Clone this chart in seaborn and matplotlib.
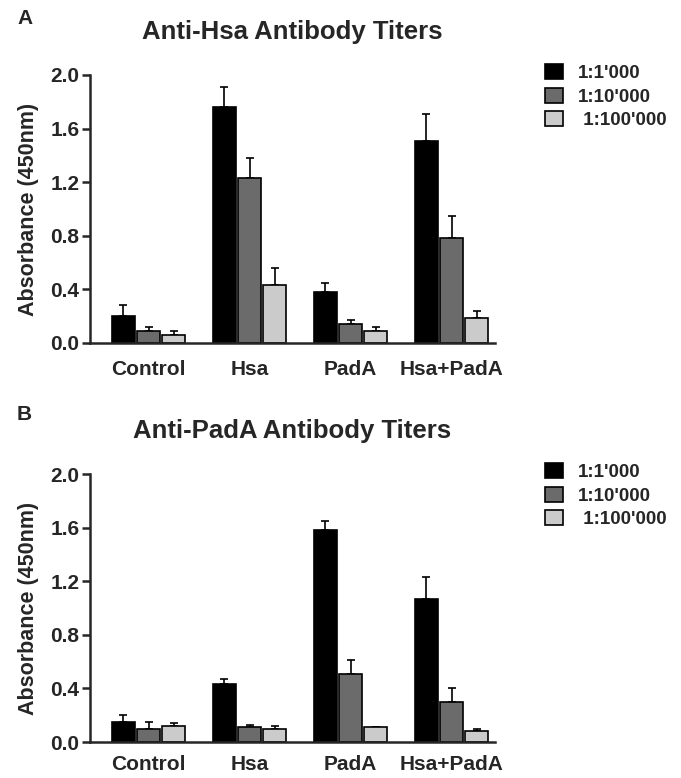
import numpy as np
import pandas as pd
import matplotlib
matplotlib.use('Agg')
import matplotlib.pyplot as plt
import seaborn as sns

# Data
groups = ['Control', 'Hsa', 'PadA', 'Hsa+PadA']
dilutions = ["1:1'000", "1:10'000", " 1:100'000"]

# Panel A: anti-Hsa titers (mean, upper error end)
hsa_1k = [0.20, 1.76, 0.38, 1.51]
hsa_1k_err = [0.28, 1.91, 0.45, 1.71]
hsa_10k = [0.09, 1.23, 0.14, 0.78]
hsa_10k_err = [0.12, 1.38, 0.17, 0.95]
hsa_100k = [0.06, 0.43, 0.09, 0.19]
hsa_100k_err = [0.09, 0.56, 0.12, 0.24]

# Panel B: anti-PadA titers
pada_1k = [0.15, 0.435, 1.58, 1.07]
pada_1k_err = [0.20, 0.47, 1.65, 1.23]
pada_10k = [0.10, 0.11, 0.51, 0.30]
pada_10k_err = [0.15, 0.13, 0.61, 0.40]
pada_100k = [0.12, 0.10, 0.11, 0.08]
pada_100k_err = [0.145, 0.12, 0.115, 0.10]

palette = ['#000000', '#6b6b6b', '#cbcbcb']

sns.set_style('ticks')
plt.rcParams['font.family'] = ['Liberation Sans', 'DejaVu Sans']
plt.rcParams['font.weight'] = 'bold'
plt.rcParams['axes.labelweight'] = 'bold'
plt.rcParams['axes.titleweight'] = 'bold'


def make_df(series):
    rows = []
    for dil, vals in zip(dilutions, series):
        for g, v in zip(groups, vals):
            rows.append({'group': g, 'dilution': dil, 'absorbance': v})
    return pd.DataFrame(rows)


def draw_panel(fig, rect, title, letter, letter_y, series, tops, xpad):
    ax = fig.add_axes(rect)
    df = make_df(series)
    sns.barplot(data=df, x='group', y='absorbance', hue='dilution',
                order=groups, hue_order=dilutions, palette=palette,
                width=0.75, gap=0.1, edgecolor='black', linewidth=1.2,
                errorbar=None, ax=ax)

    # upper-only error bars
    for cont, vals, top in zip(ax.containers, series, tops):
        xs = [b.get_x() + b.get_width() / 2 for b in cont]
        vals = np.array(vals)
        up = np.array(top) - vals
        ax.errorbar(xs, vals, yerr=[np.zeros_like(up), up], fmt='none',
                    ecolor='black', elinewidth=1.2, capsize=3, capthick=1.2,
                    zorder=0)

    ax.set_ylim(0, 2.0)
    ax.set_xlim(-0.58, 3.43)
    ax.set_yticks([0.0, 0.4, 0.8, 1.2, 1.6, 2.0])
    ax.set_yticklabels(['0.0', '0.4', '0.8', '1.2', '1.6', '2.0'])
    ax.tick_params(axis='y', labelsize=15, width=1.8, length=6, pad=1.5)
    ax.tick_params(axis='x', labelsize=15, length=0, pad=xpad)
    for lab in ax.get_xticklabels() + ax.get_yticklabels():
        lab.set_fontweight('bold')
    sns.despine(ax=ax)
    ax.spines['left'].set_linewidth(1.8)
    ax.spines['bottom'].set_linewidth(1.8)

    ax.set_xlabel('')
    ax.set_ylabel('Absorbance (450nm)', fontsize=15.5, fontweight='bold')
    ax.yaxis.set_label_coords(-0.125, 0.5)
    ax.set_title(title, fontsize=18.5, fontweight='bold', pad=26)

    handles, labels = ax.get_legend_handles_labels()
    ax.get_legend().remove()
    top_px = rect[1] + rect[3]
    ax.legend(handles, labels, loc='upper left', frameon=False,
              bbox_to_anchor=(545 / 681, top_px + 11 / 778),
              bbox_transform=fig.transFigure,
              prop={'weight': 'bold', 'size': 13.5},
              handlelength=0.95, handleheight=0.85, handletextpad=0.8,
              labelspacing=0.3, borderpad=0, borderaxespad=0)

    fig.text(17 / 681, letter_y, letter, fontsize=15, fontweight='bold',
             ha='left', va='center')
    return ax


fig = plt.figure(figsize=(6.81, 7.78), dpi=100)

draw_panel(fig, [90 / 681, 435 / 778, 405 / 681, 268 / 778],
           'Anti-Hsa Antibody Titers', 'A', 1 - 18 / 778,
           [hsa_1k, hsa_10k, hsa_100k],
           [hsa_1k_err, hsa_10k_err, hsa_100k_err], 12)

draw_panel(fig, [90 / 681, 36 / 778, 405 / 681, 268 / 778],
           'Anti-PadA Antibody Titers', 'B', 1 - 415 / 778,
           [pada_1k, pada_10k, pada_100k],
           [pada_1k_err, pada_10k_err, pada_100k_err], 9)

fig.savefig('out.png', dpi=100)
